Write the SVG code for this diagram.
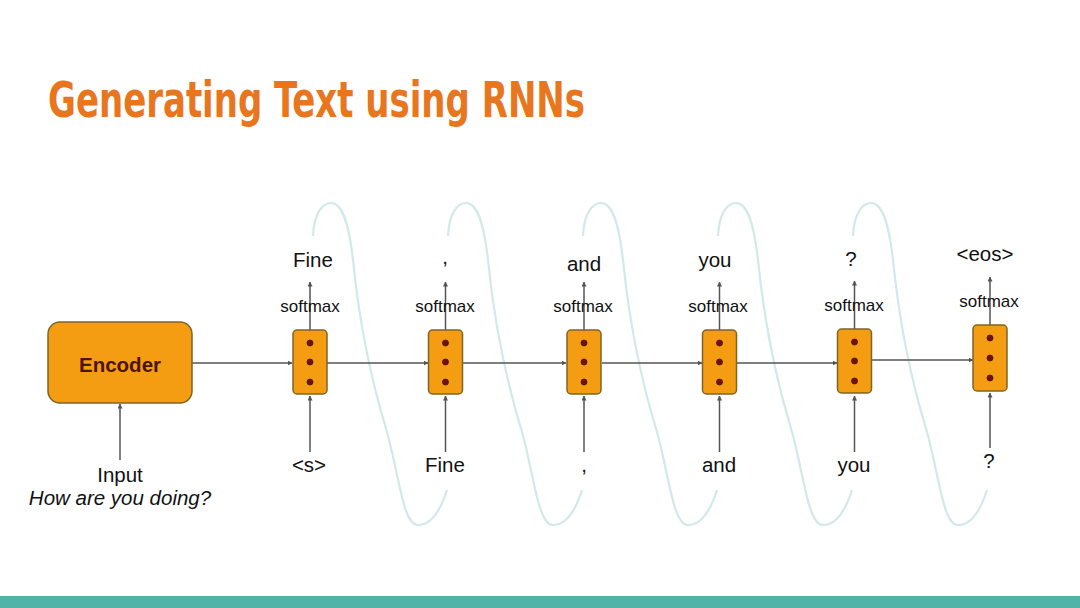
<svg xmlns="http://www.w3.org/2000/svg" width="1080" height="608" viewBox="0 0 1080 608">
<defs>
<marker id="ah" viewBox="0 0 10 10" refX="9" refY="5" markerWidth="5" markerHeight="5" orient="auto" markerUnits="userSpaceOnUse">
<path d="M0,0 L10,5 L0,10 z" fill="#555"/>
</marker>
<path id="loop" d="M313,236 C314,214 322,203 331,203 C343,203 349,225 353,260 C358,310 368,370 387,432 C399,475 403,525 418,525 C431,525 440,512 447,490"/>
</defs>
<style>
.lbl{font-family:"Liberation Sans",Arial,sans-serif;font-size:20.5px;fill:#111;text-anchor:middle}
.sm{font-family:"Liberation Sans",Arial,sans-serif;font-size:17px;fill:#111;text-anchor:middle}
.cell{fill:#f59d12;stroke:#7d6526;stroke-width:1.5}
.dot{fill:#7a0d0d;stroke:#3a1a00;stroke-width:0.8}
.ln{stroke:#555;stroke-width:1.5;fill:none;marker-end:url(#ah)}
.spiral use{fill:none;stroke:#d3e8e8;stroke-width:2.2}
</style>
<rect width="1080" height="608" fill="#ffffff"/>
<text x="48" y="117" font-family="'DejaVu Sans Condensed','DejaVu Sans',sans-serif" font-weight="bold" font-size="50" fill="#e8761e" textLength="537" lengthAdjust="spacingAndGlyphs">Generating Text using RNNs</text>
<g class="spiral">
<use href="#loop"/>
<use href="#loop" x="135"/>
<use href="#loop" x="270"/>
<use href="#loop" x="405"/>
<use href="#loop" x="540"/>
</g>
<g id="connectors">
<line class="ln" x1="192" y1="363" x2="292" y2="363"/>
<line class="ln" x1="327" y1="363" x2="428" y2="363"/>
<line class="ln" x1="463" y1="363" x2="566" y2="363"/>
<line class="ln" x1="602" y1="363" x2="702" y2="363"/>
<line class="ln" x1="737" y1="363" x2="837" y2="363"/>
<line class="ln" x1="872" y1="360" x2="973" y2="360"/>
<line class="ln" x1="120" y1="460" x2="120" y2="404"/>
<line class="ln" x1="310" y1="452" x2="310" y2="396"/>
<line class="ln" x1="445.5" y1="452" x2="445.5" y2="396"/>
<line class="ln" x1="584" y1="452" x2="584" y2="396"/>
<line class="ln" x1="719.5" y1="452" x2="719.5" y2="396"/>
<line class="ln" x1="854.5" y1="452" x2="854.5" y2="396"/>
<line class="ln" x1="990" y1="448" x2="990" y2="393"/>
<line class="ln" x1="310" y1="330" x2="310" y2="282"/>
<line class="ln" x1="445.5" y1="330" x2="445.5" y2="282"/>
<line class="ln" x1="584" y1="330" x2="584" y2="282"/>
<line class="ln" x1="719.5" y1="330" x2="719.5" y2="282"/>
<line class="ln" x1="854.5" y1="329" x2="854.5" y2="281"/>
<line class="ln" x1="990" y1="325" x2="990" y2="277"/>
</g>
<g id="encoder">
<rect x="48" y="322" width="144" height="81" rx="12" fill="#f59d12" stroke="#7d6526" stroke-width="1.5"/>
<text x="120" y="372" font-family="'Liberation Sans',Arial,sans-serif" font-weight="bold" font-size="20.5" fill="#4a1400" text-anchor="middle">Encoder</text>
</g>
<g id="input">
<text class="lbl" x="120" y="482">Input</text>
<text class="lbl" x="120" y="505" font-style="italic">How are you doing?</text>
</g>
<g id="cell1">
<rect class="cell" x="293" y="330" width="34" height="64" rx="4"/>
<circle class="dot" cx="310" cy="343" r="3"/><circle class="dot" cx="310" cy="362" r="3"/><circle class="dot" cx="310" cy="382" r="3"/>
<text class="sm" x="310" y="312">softmax</text>
<text class="lbl" x="313" y="267">Fine</text>
<text class="lbl" x="309" y="472">&lt;s&gt;</text>
</g>
<g id="cell2">
<rect class="cell" x="428.5" y="330" width="34" height="64" rx="4"/>
<circle class="dot" cx="445.5" cy="343" r="3"/><circle class="dot" cx="445.5" cy="362" r="3"/><circle class="dot" cx="445.5" cy="382" r="3"/>
<text class="sm" x="445" y="312">softmax</text>
<text class="lbl" x="445" y="264">,</text>
<text class="lbl" x="445" y="472">Fine</text>
</g>
<g id="cell3">
<rect class="cell" x="567" y="330" width="34" height="64" rx="4"/>
<circle class="dot" cx="584" cy="343" r="3"/><circle class="dot" cx="584" cy="362" r="3"/><circle class="dot" cx="584" cy="382" r="3"/>
<text class="sm" x="583" y="312">softmax</text>
<text class="lbl" x="584" y="271">and</text>
<text class="lbl" x="584" y="472">,</text>
</g>
<g id="cell4">
<rect class="cell" x="702.5" y="330" width="34" height="64" rx="4"/>
<circle class="dot" cx="719.5" cy="343" r="3"/><circle class="dot" cx="719.5" cy="362" r="3"/><circle class="dot" cx="719.5" cy="382" r="3"/>
<text class="sm" x="718" y="312">softmax</text>
<text class="lbl" x="715" y="267">you</text>
<text class="lbl" x="719" y="472">and</text>
</g>
<g id="cell5">
<rect class="cell" x="837.5" y="329" width="34" height="64" rx="4"/>
<circle class="dot" cx="854.5" cy="342" r="3"/><circle class="dot" cx="854.5" cy="361" r="3"/><circle class="dot" cx="854.5" cy="381" r="3"/>
<text class="sm" x="854" y="311">softmax</text>
<text class="lbl" x="851" y="266">?</text>
<text class="lbl" x="854" y="472">you</text>
</g>
<g id="cell6">
<rect class="cell" x="973" y="325" width="34" height="66" rx="4"/>
<circle class="dot" cx="990" cy="338" r="3"/><circle class="dot" cx="990" cy="358" r="3"/><circle class="dot" cx="990" cy="378" r="3"/>
<text class="sm" x="989" y="307">softmax</text>
<text class="lbl" x="985" y="261">&lt;eos&gt;</text>
<text class="lbl" x="989" y="468">?</text>
</g>
<rect x="0" y="596" width="1080" height="12" fill="#52b4a7"/>
</svg>
